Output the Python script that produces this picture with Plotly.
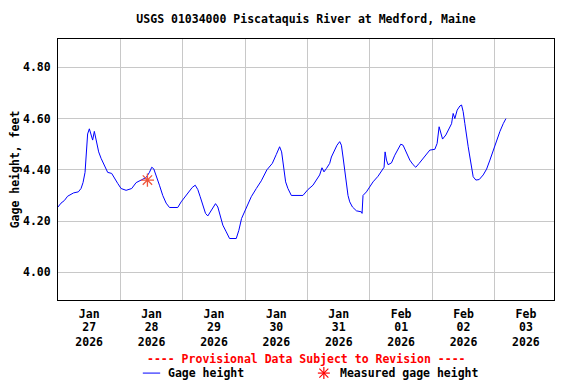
import pandas as pd
import plotly.graph_objects as go

# ---- data ----
start = "2026-01-27 00:00"
hours_since_start = [
    0, 1.16, 2.43, 3.70, 6.01, 7.82, 8.86, 9.63, 10.40, 10.90, 11.40, 12.06, 12.71, 13.33,
    13.98, 14.64, 15.64, 16.56, 17.84, 19.11, 20.65, 21.69, 22.96, 24.27, 26.20, 28.35,
    30.05, 31.97, 33.90, 35.17, 36.06, 36.83, 37.75, 39.02, 40.29, 41.60, 42.88, 46.07,
    47.38, 48.38, 49.31, 50.58, 51.62, 52.78, 53.78, 54.70, 55.70, 56.74, 57.63, 58.94,
    59.94, 60.60, 61.48, 62.41, 63.41, 64.72, 65.99, 68.57, 69.57, 70.61, 72.42, 74.35,
    76.28, 78.20, 80.36, 82.44, 83.98, 85.25, 86.02, 86.79, 87.56, 88.45, 89.76, 94.23,
    94.88, 96.15, 98.08, 99.39, 100.66, 101.55, 102.32, 103.24, 104.51, 105.17, 106.44,
    107.32, 108.36, 109.02, 109.64, 110.29, 110.95, 111.56, 112.22, 113.26, 114.80, 116.72,
    116.96, 117.34, 118.65, 119.92, 121.19, 123.12, 125.05, 125.43, 125.82, 126.36, 126.97,
    128.28, 129.55, 130.82, 131.86, 132.75, 134.06, 135.33, 136.60, 137.64, 138.91, 140.45,
    142.38, 143.03, 144.96, 145.84, 146.61, 147.15, 147.93, 149.20, 150.47, 151.39, 152.01,
    152.66, 153.55, 154.59, 155.24, 155.86, 156.51, 157.17, 157.79, 158.44, 159.10, 159.71,
    160.75, 162.02, 163.56, 164.88, 166.15, 167.42, 168.73, 170.00, 171.27, 172.31,
]
gage_height_ft = [
    4.255, 4.27, 4.28, 4.297, 4.31, 4.314, 4.327, 4.35, 4.39, 4.45, 4.54, 4.56, 4.54, 4.516,
    4.55, 4.516, 4.47, 4.445, 4.42, 4.39, 4.386, 4.366, 4.347, 4.327, 4.32, 4.327,
    4.35, 4.36, 4.37, 4.39, 4.41, 4.404, 4.38, 4.34, 4.30, 4.27, 4.253, 4.253,
    4.275, 4.288, 4.30, 4.318, 4.331, 4.34, 4.323, 4.295, 4.258, 4.23, 4.22, 4.243,
    4.255, 4.268, 4.255, 4.22, 4.184, 4.158, 4.132, 4.132, 4.164, 4.21, 4.249, 4.295,
    4.327, 4.357, 4.40, 4.425, 4.46, 4.49, 4.47, 4.41, 4.353, 4.327, 4.30, 4.30,
    4.308, 4.323, 4.34, 4.36, 4.38, 4.408, 4.392, 4.405, 4.425, 4.45, 4.48,
    4.496, 4.51, 4.496, 4.45, 4.40, 4.347, 4.30, 4.275, 4.255, 4.24, 4.236,
    4.23, 4.30, 4.314, 4.334, 4.353, 4.375, 4.405, 4.41, 4.47, 4.438, 4.42,
    4.427, 4.457, 4.484, 4.50, 4.496, 4.464, 4.438, 4.42, 4.41, 4.425, 4.445,
    4.47, 4.477, 4.48, 4.503, 4.568, 4.55, 4.52, 4.536, 4.562, 4.58, 4.62,
    4.60, 4.633, 4.649, 4.653, 4.627, 4.58, 4.542, 4.49, 4.45, 4.405, 4.373,
    4.36, 4.362, 4.38, 4.403, 4.438, 4.477, 4.51, 4.55, 4.58, 4.60,
]
measured_time = ["2026-01-28 10:24"]
measured_height = [4.36]

day_dates = ["2026-01-27", "2026-01-28", "2026-01-29", "2026-01-30",
             "2026-01-31", "2026-02-01", "2026-02-02", "2026-02-03"]
month_labels = ["Jan", "Jan", "Jan", "Jan", "Jan", "Feb", "Feb", "Feb"]
day_labels = ["27", "28", "29", "30", "31", "01", "02", "03"]
year_labels = ["2026"] * 8
y_ticks = [4.00, 4.20, 4.40, 4.60, 4.80]

times = pd.Timestamp(start) + pd.to_timedelta(hours_since_start, unit="h")
label_pos = [pd.Timestamp(d) + pd.Timedelta(hours=12) for d in day_dates]
grid_pos = [pd.Timestamp(d) for d in day_dates[1:]]
x_range = [pd.Timestamp(start), pd.Timestamp(start) + pd.Timedelta(hours=190.8)]

FONT = "DejaVu Sans Mono"
FS = 11.5
black_font = dict(family=FONT, size=FS, color="black", weight="bold")

fig = go.Figure()
fig.add_trace(go.Scatter(x=times, y=gage_height_ft, mode="lines",
                         line=dict(color="#0000ff", width=1), showlegend=False))
fig.add_trace(go.Scatter(x=pd.to_datetime(measured_time), y=measured_height, mode="markers",
                         marker=dict(symbol="asterisk-open", size=11,
                                     line=dict(color="#ff0000", width=1.3)),
                         showlegend=False))
# empty carriers so the two extra label axes (day, year) get drawn
for ax in ("x2", "x3"):
    fig.add_trace(go.Scatter(x=label_pos, y=[None] * len(label_pos), xaxis=ax, yaxis="y",
                             mode="lines", showlegend=False, hoverinfo="skip"))

# The page body has an 8px margin, so the figure is laid out 8px short of the window.
fig.update_layout(
    width=568, height=376,
    margin=dict(l=50, r=22, t=31, b=84, autoexpand=False),
    paper_bgcolor="white", plot_bgcolor="white",
    font=black_font,
    title=dict(text="USGS 01034000 Piscataquis River at Medford, Maine",
               x=0.5, xref="paper", xanchor="center", y=1 - 11 / 376, yref="container",
               yanchor="middle", font=black_font),
)
fig.update_layout(
    xaxis=dict(
        range=x_range, type="date",
        tickmode="array", tickvals=label_pos, ticktext=month_labels, automargin=False,
        showgrid=False, ticks="", showline=True, linecolor="black", linewidth=1, mirror=True,
        zeroline=False, tickangle=0, ticklabelstandoff=3, tickfont=black_font,
        minor=dict(tickmode="array", tickvals=grid_pos, showgrid=True,
                   gridcolor="#c8c8c8", gridwidth=1, ticks=""),
    ),
    xaxis2=dict(overlaying="x", anchor="y", side="bottom", range=x_range, type="date",
                tickmode="array", tickvals=label_pos, ticktext=day_labels,
                automargin=False, showgrid=False, showline=False, zeroline=False,
                ticks="", tickangle=0, ticklabelstandoff=18, tickfont=black_font),
    xaxis3=dict(overlaying="x", anchor="y", side="bottom", range=x_range, type="date",
                tickmode="array", tickvals=label_pos, ticktext=year_labels,
                automargin=False, showgrid=False, showline=False, zeroline=False,
                ticks="", tickangle=0, ticklabelstandoff=33, tickfont=black_font),
    yaxis=dict(
        range=[3.892, 4.9105], automargin=False,
        tickmode="array", tickvals=y_ticks, ticktext=[f"{v:.2f}" for v in y_ticks],
        showgrid=True, gridcolor="#c8c8c8", gridwidth=1, ticks="",
        showline=True, linecolor="black", linewidth=1, mirror=True, zeroline=False,
        ticklabelstandoff=4,
        title=dict(text="Gage height, feet", standoff=6, font=black_font),
        tickfont=black_font,
    ),
)

# provisional-data note and hand-drawn legend
fig.add_annotation(text="---- Provisional Data Subject to Revision ----",
                   xref="paper", yref="paper", x=0.502, y=-0.226, showarrow=False,
                   xanchor="center", yanchor="middle",
                   font=dict(family=FONT, size=FS, color="#ff0000", weight="bold"))
fig.add_shape(type="line", xref="paper", yref="paper", x0=0.171, x1=0.206,
              y0=-0.280, y1=-0.280, line=dict(color="#0000ff", width=1))
fig.add_annotation(text="Gage height", xref="paper", yref="paper", x=0.218, y=-0.280,
                   showarrow=False, xanchor="left", yanchor="middle", font=black_font)
# asterisk legend symbol drawn as four short strokes (pixel-sized)
for dx, dy in [(6, 0), (0, 6), (4.5, 4.5), (4.5, -4.5)]:
    fig.add_shape(type="line", xref="paper", yref="paper",
                  xsizemode="pixel", ysizemode="pixel", xanchor=0.536, yanchor=-0.280,
                  x0=-dx, x1=dx, y0=-dy, y1=dy, line=dict(color="#ff0000", width=1.2))
fig.add_annotation(text="Measured gage height", xref="paper", yref="paper", x=0.565,
                   y=-0.280, showarrow=False, xanchor="left", yanchor="middle",
                   font=black_font)

fig.write_html("out.html")
